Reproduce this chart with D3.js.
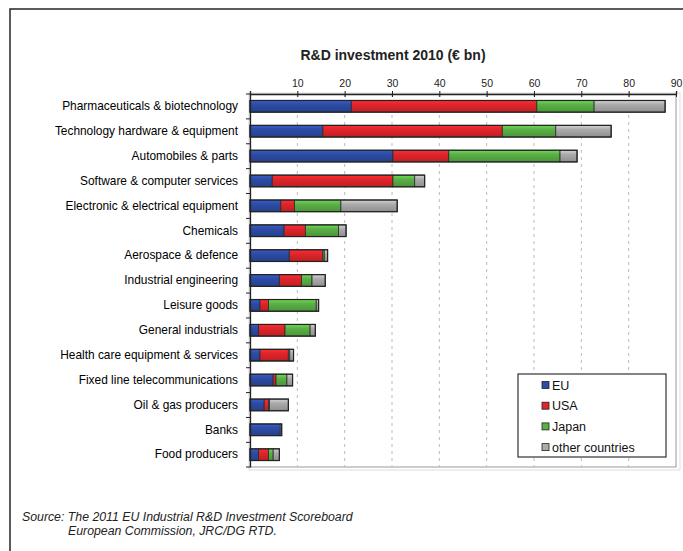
<!DOCTYPE html>
<html>
<head>
<meta charset="utf-8">
<script src="https://cdnjs.cloudflare.com/ajax/libs/d3/7.8.5/d3.min.js"></script>
<style>
  body { margin: 0; background: #fff; }
  svg { display: block; font-family: Arial, "Liberation Sans", sans-serif; }
</style>
</head>
<body>
<div class="canvas"></div>
<script>
// data
const sectors = [
  "Pharmaceuticals & biotechnology",
  "Technology hardware & equipment",
  "Automobiles & parts",
  "Software & computer services",
  "Electronic & electrical equipment",
  "Chemicals",
  "Aerospace & defence",
  "Industrial engineering",
  "Leisure goods",
  "General industrials",
  "Health care equipment & services",
  "Fixed line telecommunications",
  "Oil & gas producers",
  "Banks",
  "Food producers",
];
const eu = [21.4, 15.4, 30.2, 4.7, 6.5, 7.2, 8.3, 6.2, 2.1, 1.8, 2.1, 4.9, 3.0, 6.4, 1.8];
const usa = [39.2, 37.9, 11.8, 25.5, 2.9, 4.5, 7.1, 4.7, 1.8, 5.6, 6.0, 0.6, 0.9, 0.0, 2.1];
const japan = [12.1, 11.3, 23.5, 4.6, 9.8, 7.0, 0.3, 2.2, 10.1, 5.3, 0.3, 2.3, 0.2, 0.0, 1.0];
const other = [15.0, 11.7, 3.6, 2.1, 11.9, 1.6, 0.7, 2.8, 0.5, 1.1, 0.8, 1.2, 4.0, 0.3, 1.3];
const seriesNames = ["EU", "USA", "Japan", "other countries"];
const xTicks = [0, 10, 20, 30, 40, 50, 60, 70, 80, 90];

const colors = ["#2d4ca6", "#e1252a", "#5ab146", "#ababab"];

const margin = { top: 94, left: 250, right: 8, bottom: 84 };
const width = 683;
const height = 551;
const graphWidth = 676 - margin.left;
const graphHeight = 467 - margin.top;

const svg = d3
  .select(".canvas")
  .append("svg")
  .attr("width", width)
  .attr("height", height);

// outer frame
svg
  .append("rect")
  .attr("x", 10)
  .attr("y", 9)
  .attr("width", 700)
  .attr("height", 600)
  .attr("fill", "none")
  .attr("stroke", "#333")
  .attr("stroke-width", 1.6);

// gradients for a slightly rounded bar look
const defs = svg.append("defs");
colors.forEach((c, i) => {
  const g = defs
    .append("linearGradient")
    .attr("id", `grad${i}`)
    .attr("x1", 0).attr("x2", 0).attr("y1", 0).attr("y2", 1);
  g.append("stop").attr("offset", "0%").attr("stop-color", d3.color(c).brighter(0.6));
  g.append("stop").attr("offset", "35%").attr("stop-color", c);
  g.append("stop").attr("offset", "100%").attr("stop-color", d3.color(c).darker(0.5));
});

const graph = svg
  .append("g")
  .attr("transform", `translate(${margin.left},${margin.top})`);

// scales
const x = d3.scaleLinear().domain([0, 90]).range([0, graphWidth]);
const y = d3.scaleBand().domain(sectors).range([0, graphHeight]).paddingInner(0.53).paddingOuter(0.26);

// plot frame
graph
  .append("rect")
  .attr("width", graphWidth)
  .attr("height", graphHeight)
  .attr("fill", "none")
  .attr("stroke", "#999")
  .attr("stroke-width", 1);
graph
  .append("rect")
  .attr("x", -1)
  .attr("y", -1)
  .attr("width", graphWidth + 5)
  .attr("height", graphHeight + 4)
  .attr("fill", "none")
  .attr("stroke", "#ddd")
  .attr("stroke-width", 1);

// grid
graph
  .append("g")
  .selectAll("line")
  .data(xTicks.slice(1, -1))
  .join("line")
  .attr("x1", (d) => x(d))
  .attr("x2", (d) => x(d))
  .attr("y1", 0)
  .attr("y2", graphHeight)
  .attr("stroke", "#bbb")
  .attr("stroke-width", 1)
  .attr("stroke-dasharray", "3,4");

// stacked bars
const table = sectors.map((s, i) => ({
  sector: s,
  EU: eu[i],
  USA: usa[i],
  Japan: japan[i],
  "other countries": other[i],
}));
const stacked = d3.stack().keys(seriesNames)(table);

const barH = y.bandwidth();
graph
  .append("g")
  .selectAll("g")
  .data(stacked)
  .join("g")
  .attr("fill", (d, i) => `url(#grad${i})`)
  .selectAll("rect")
  .data((d) => d.filter((v) => v[1] - v[0] > 0))
  .join("rect")
  .attr("x", (d) => x(d[0]))
  .attr("y", (d) => y(d.data.sector))
  .attr("width", (d) => x(d[1]) - x(d[0]))
  .attr("height", barH)
  .attr("stroke", "#2a2a2a")
  .attr("stroke-width", 0.8);

// outline around whole bar
graph
  .append("g")
  .selectAll("rect")
  .data(table)
  .join("rect")
  .attr("x", 0)
  .attr("y", (d) => y(d.sector))
  .attr("width", (d, i) => x(stacked[3][i][1]))
  .attr("height", barH)
  .attr("fill", "none")
  .attr("stroke", "#222")
  .attr("stroke-width", 1.2);

// top axis
const xAxis = d3
  .axisTop(x)
  .tickValues(xTicks)
  .tickSize(3)
  .tickFormat((d) => (d === 0 ? "" : d));
const xAxisGroup = graph.append("g").call(xAxis);
xAxisGroup.select(".domain").attr("stroke", "#222").attr("stroke-width", 1.3);
xAxisGroup.selectAll(".tick line").attr("y2", -3).attr("y1", 3).attr("stroke", "#222");
xAxisGroup
  .selectAll("text")
  .attr("y", -7)
  .attr("font-size", 10.5)
  .attr("fill", "#222");

// left axis
const yAxisGroup = graph
  .append("g")
  .call(d3.axisLeft(y).tickSize(0).tickPadding(12));
yAxisGroup.select(".domain").attr("stroke", "#222").attr("stroke-width", 1.3);
yAxisGroup
  .selectAll("text")
  .attr("font-size", 11.9)
  .attr("fill", "#000");

// small boundary ticks on left axis
const step = y.step();
graph
  .append("g")
  .selectAll("line")
  .data(d3.range(sectors.length + 1))
  .join("line")
  .attr("x1", -4)
  .attr("x2", 0)
  .attr("y1", (d) => Math.min(d * step, graphHeight))
  .attr("y2", (d) => Math.min(d * step, graphHeight))
  .attr("stroke", "#222");

// title
svg
  .append("text")
  .attr("x", 393)
  .attr("y", 60)
  .attr("text-anchor", "middle")
  .attr("font-size", 14)
  .attr("font-weight", "bold")
  .attr("fill", "#222")
  .text("R&D investment 2010 (€ bn)");

// legend
const legend = svg.append("g").attr("transform", "translate(518,374)");
legend
  .append("rect")
  .attr("width", 148)
  .attr("height", 83)
  .attr("fill", "#fff")
  .attr("stroke", "#333")
  .attr("stroke-width", 1.2);
const items = legend
  .selectAll("g")
  .data(seriesNames)
  .join("g")
  .attr("transform", (d, i) => `translate(24,${7 + i * 20.7})`);
items
  .append("rect")
  .attr("width", 7)
  .attr("height", 7)
  .attr("y", 0.5)
  .attr("fill", (d, i) => colors[i])
  .attr("stroke", "#222")
  .attr("stroke-width", 0.8);
items
  .append("text")
  .attr("x", 10)
  .attr("y", 8.5)
  .attr("font-size", 12.5)
  .attr("fill", "#111")
  .text((d) => d);

// source
const src = svg
  .append("text")
  .attr("font-size", 12.3)
  .attr("font-style", "italic")
  .attr("fill", "#222");
src.append("tspan").attr("x", 22).attr("y", 521).text("Source:  The 2011 EU Industrial R&D Investment Scoreboard");
src.append("tspan").attr("x", 68).attr("y", 535).text("European Commission, JRC/DG RTD.");
</script>
</body>
</html>
